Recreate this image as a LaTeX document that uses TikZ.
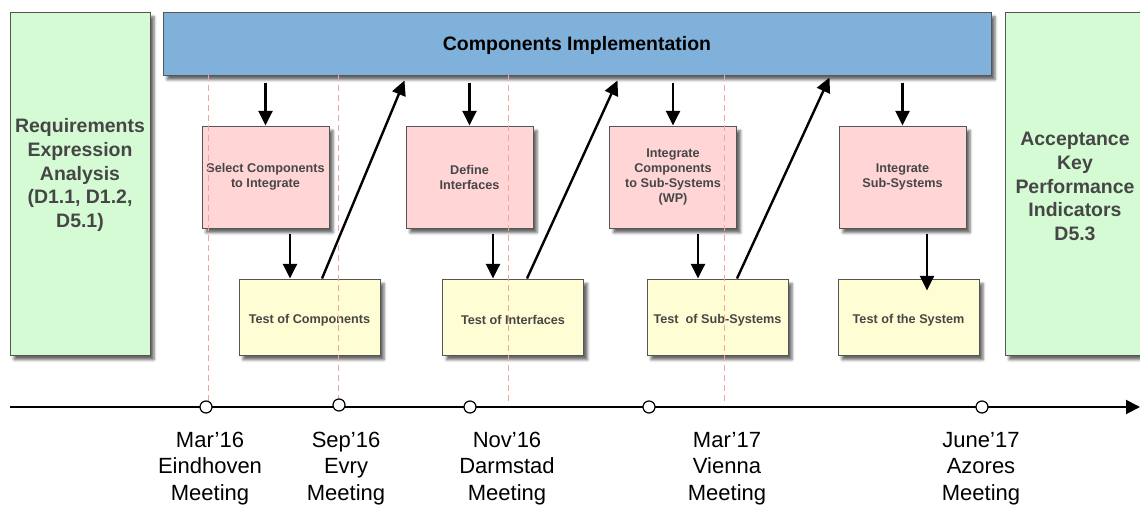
\documentclass[tikz,border=0pt]{standalone}
\usepackage{fontspec}
\setmainfont{Liberation Sans}
\usetikzlibrary{arrows.meta,calc,shadows.blur}

\definecolor{boxline}{HTML}{555555}
\definecolor{ink}{HTML}{464646}
\definecolor{phasegreen}{HTML}{D4FBD4}
\definecolor{implblue}{HTML}{80B1DB}
\definecolor{taskpink}{HTML}{FFD5D6}
\definecolor{testyellow}{HTML}{FFFDD4}
\definecolor{guidered}{HTML}{F4A3A3}

\begin{document}
\begin{tikzpicture}[x=0.75pt,y=-0.75pt,
  box/.style={draw=boxline, line width=0.75pt, text=ink, align=center, inner sep=0pt,
    blur shadow={shadow xshift=3pt, shadow yshift=-3.5pt, shadow blur radius=2pt, shadow opacity=60}},
  bigfont/.style={font=\bfseries\fontsize{14.6pt}{17.8pt}\selectfont},
  smallfont/.style={font=\bfseries\fontsize{9.5pt}{11.25pt}\selectfont,
    execute at begin node={\rule{0pt}{11.5pt}}},
  phase/.style={box, fill=phasegreen, minimum width=105pt, minimum height=257.25pt},
  impl/.style={box, bigfont, text=black, fill=implblue, minimum width=621pt, minimum height=47.25pt},
  task/.style={box, smallfont, fill=taskpink, minimum width=95.25pt, minimum height=76.5pt},
  testbox/.style={box, smallfont, fill=testyellow, minimum width=105.75pt, minimum height=57pt},
  flow/.style={-{Triangle[width=10.5pt,length=11pt]}, line width=1.8pt},
  guide/.style={draw=guidered, line width=0.75pt, dash pattern=on 4.5pt off 3pt},
  milestone/.style={circle, draw, fill=white, line width=0.9pt, minimum size=9pt, inner sep=0pt},
  when/.style={align=center, font=\fontsize{16.5pt}{19.9pt}\selectfont}
]
\useasboundingbox (0,0) rectangle (1140,507);
\clip (0,0) rectangle (1140,507);

% phases on both sides
\node[phase] (req) at (80,183.5) {};
\node[bigfont, text=ink, align=center] (reqtext) at (80,175)
  {Requirements\\Expression\\Analysis\\(D1.1, D1.2,\\D5.1)};
\node[phase] (acc) at (1075,183.5) {};
\node[bigfont, text=ink, align=center] (acctext) at (1075,186.5)
  {Acceptance\\Key\\Performance\\Indicators\\D5.3};

% implementation band
\node[impl] (blue) at (577,43.5) {};
\node[bigfont, text=black] (bluetext) at (577,45) {Components Implementation};

% integration tasks
\node[task] (pink1) at (265.5,177) {Select Components\\to Integrate};
\node[task] (pink2) at (469.5,177) {Define\\Interfaces};
\node[task] (pink3) at (673,177) {Integrate\\Components\\to Sub-Systems\\(WP)};
\node[task] (pink4) at (902.5,177) {Integrate\\Sub-Systems};

% tests
\node[testbox] (yel1) at (309.5,317) {Test of Components};
\node[testbox] (yel2) at (513,317) {Test of Interfaces};
\node[testbox] (yel3) at (717.5,317) {Test\ \ of Sub-Systems};
\node[testbox] (yel4) at (908.5,317) {Test of the System};

% meeting guides
\draw[guide] (208,75) -- (208,405);
\draw[guide] (338,75) -- (338,405);
\draw[guide] (508,75) -- (508,405);
\draw[guide] (724,75) -- (724,405);

% implementation -> tasks
\foreach \t in {pink1,pink2,pink3,pink4}
  \draw[flow] ($(\t.north |- blue.south)+(0,7)$) -- (\t.north);

% tasks -> tests
\draw[flow] ($(pink1.south)+(24.5,5)$) -- ($(yel1.north)+(-19.5,0)$);
\draw[flow] ($(pink2.south)+(23.5,5)$) -- ($(yel2.north)+(-20,0)$);
\draw[flow] ($(pink3.south)+(25,5)$) -- ($(yel3.north)+(-19.5,0)$);
\draw[flow] ($(pink4.south)+(24.5,5)$) -- ($(yel4.north)+(18.5,12)$);

% tests feed back into implementation
\draw[flow] ($(yel1.north)+(12.5,0)$) -- ($(blue.south west)+(242,5)$);
\draw[flow] ($(yel2.north)+(14,0)$) -- ($(blue.south west)+(455,5)$);
\draw[flow] ($(yel3.north)+(19.5,0)$) -- ($(blue.south west)+(667,2)$);

% timeline
\coordinate (tstart) at (10,407);
\coordinate (tend) at (1140,407);
\draw[-{Triangle[width=10.5pt,length=10.5pt]}, line width=1.5pt] (tstart) -- (tend);

\node[milestone] (m1) at (206,407) {};
\node[milestone] (m2) at (339,405) {};
\node[milestone] (m3) at (470,407) {};
\node[milestone] (m4) at (649,407) {};
\node[milestone] (m5) at (982,407) {};

\node[when] (w1) at (210,468.5) {Mar’16\\Eindhoven\\Meeting};
\node[when] (w2) at (346,468.5) {Sep’16\\Evry\\Meeting};
\node[when] (w3) at (507,468.5) {Nov’16\\Darmstad\\Meeting};
\node[when] (w4) at (727,468.5) {Mar’17\\Vienna\\Meeting};
\node[when] (w5) at (981,468.5) {June’17\\Azores\\Meeting};
\end{tikzpicture}
\end{document}
